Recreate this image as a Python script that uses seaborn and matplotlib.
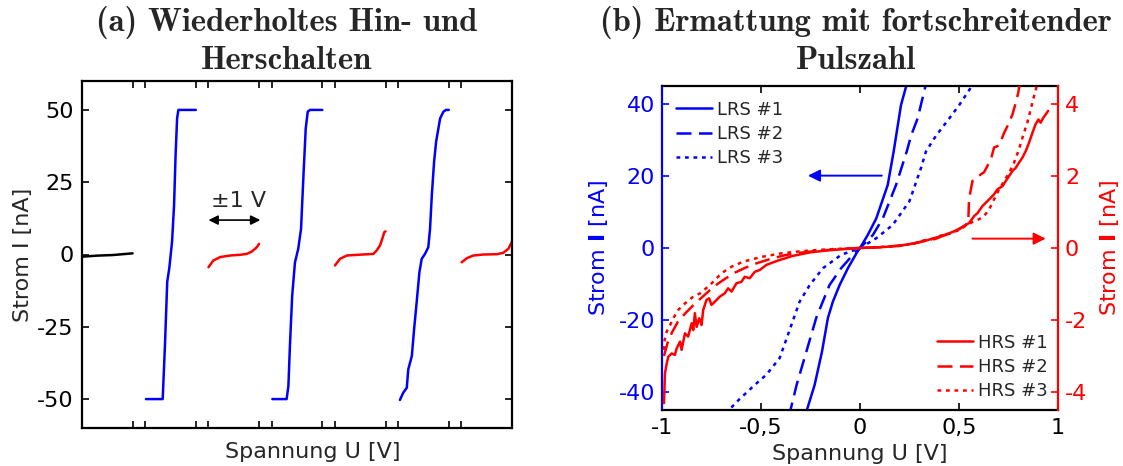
import matplotlib
matplotlib.use("Agg")
import matplotlib.pyplot as plt
import seaborn as sns

sns.set_theme(style="ticks")
plt.rcParams["font.family"] = ["DejaVu Sans"]
plt.rcParams["axes.unicode_minus"] = False

# ---------------- (a) repeated switching: consecutive +-1 V sweeps ----------------
# each sweep: local voltage (-1 .. +1 V) and current in nA
init_u = [-1.0, -0.42, 0.24, 1.0]
init_i = [-0.76, -0.4, -0.17, 0.4]

set1_u = [-0.97, -0.31, -0.22, -0.13, -0.05, 0.06, 0.14, 0.20, 0.26, 0.31, 1.0]
set1_i = [-50, -50, -31.3, -9.4, -4.8, 4.4, 17.1, 34.4, 47.1, 50, 50]
reset1_u = [-1.0, -0.81, -0.54, -0.15, 0.25, 0.51, 0.71, 0.91, 1.0]
reset1_i = [-4.4, -2.1, -0.9, -0.35, -0.1, 0.2, 1.0, 2.5, 3.7]

set2_u = [-0.975, -0.41, -0.34, -0.28, -0.19, -0.08, 0.05, 0.16, 0.25, 0.345, 0.425, 0.515, 1.0]
set2_i = [-50, -50, -45.5, -31.6, -14.2, -2.7, 2.0, 8.9, 26.3, 43.6, 49.4, 50, 50]
reset2_u = [-1.0, -0.80, -0.53, -0.08, 0.52, 0.65, 0.78, 0.87, 0.95, 1.0]
reset2_i = [-3.8, -1.5, -0.35, -0.1, 0.2, 1.4, 3.1, 5.4, 7.7, 8.0]

set3_u = [-0.93, -0.80, -0.66, -0.60, -0.46, -0.37, -0.27, -0.16, -0.07, 0.06,
          0.19, 0.26, 0.33, 0.42, 0.50, 0.59, 0.66, 0.79, 0.89, 1.0]
set3_i = [-50.3, -47.8, -46.1, -39.7, -35.1, -25.8, -16.6, -6.1, -1.5, 0.2,
          2.5, 8.9, 20.5, 32.1, 39.0, 43.6, 47.1, 49.4, 50, 50]
reset3_u = [-0.99, -0.79, -0.53, -0.13, 0.40, 0.66, 0.86, 0.99, 1.03]
reset3_i = [-2.7, -1.3, -0.35, 0.0, 0.1, 0.6, 2.0, 4.3, 5.5]

sweeps_a = [
    (init_u, init_i, "black"),
    (set1_u, set1_i, "blue"),
    (reset1_u, reset1_i, "red"),
    (set2_u, set2_i, "blue"),
    (reset2_u, reset2_i, "red"),
    (set3_u, set3_i, "blue"),
    (reset3_u, reset3_i, "red"),
]
sweep_width = 2.0   # one sweep covers -1 .. +1 V
sweep_gap = 0.5
yticks_a = [-50, -25, 0, 25, 50]

# ---------------- (b) degradation with increasing pulse number ----------------
lrs1_u = [-0.28, -0.271, -0.229, -0.192, -0.162, -0.137, -0.103, -0.061, -0.013, 0.0,
          0.039, 0.082, 0.140, 0.170, 0.207, 0.236, 0.245]
lrs1_i = [-47, -45.5, -38, -28.8, -19.4, -14.9, -10.3, -5.6, -1.0, 0.0,
          3.6, 8.2, 17.5, 26.8, 39.7, 45.5, 47]
lrs2_u = [-0.36, -0.32, -0.271, -0.221, -0.154, -0.095, -0.036, 0.0, 0.065, 0.115,
          0.182, 0.236, 0.258, 0.291, 0.333, 0.34]
lrs2_i = [-47, -38, -28.8, -19.4, -10.3, -5.6, -1.9, 0.0, 3.6, 8.2,
          17.5, 26.8, 31.2, 36.0, 45.5, 47]
lrs3_u = [-0.68, -0.607, -0.531, -0.473, -0.406, -0.364, -0.305, -0.254, -0.187, -0.095,
          0.0, 0.082, 0.165, 0.249, 0.308, 0.333, 0.384, 0.451, 0.501, 0.552, 0.57]
lrs3_i = [-46, -41.9, -38, -35.2, -30.6, -24.1, -14.9, -10.3, -5.6, -1.9,
          0.0, 2.7, 6.4, 12.9, 22.2, 26.8, 31.2, 36.0, 39.7, 43.9, 45.5]

hrs1_u = [-0.99, -0.985, -0.976, -0.968, -0.951, -0.935, -0.926, -0.909, -0.901, -0.884,
          -0.868, -0.85, -0.842, -0.834, -0.825, -0.812, -0.80, -0.792, -0.775, -0.762,
          -0.75, -0.733, -0.708, -0.683, -0.666, -0.649, -0.624, -0.599, -0.582, -0.557,
          -0.531, -0.506, -0.473, -0.42, -0.34, -0.25, -0.17, -0.08, 0.0, 0.1,
          0.2, 0.28, 0.33, 0.37, 0.40, 0.43, 0.46, 0.50, 0.53, 0.552,
          0.577, 0.594, 0.619, 0.636, 0.661, 0.677, 0.694, 0.720, 0.736, 0.753,
          0.770, 0.787, 0.803, 0.820, 0.837, 0.854, 0.871, 0.887, 0.901, 0.912,
          0.926, 0.938, 0.95]
hrs1_i = [-4.31, -3.48, -3.20, -3.02, -2.93, -2.97, -2.79, -2.60, -2.83, -2.37,
          -2.46, -2.09, -2.28, -1.81, -2.19, -1.95, -2.14, -1.72, -1.44, -1.40,
          -1.58, -1.49, -1.35, -1.26, -1.12, -1.21, -0.98, -0.94, -0.80, -0.84,
          -0.66, -0.61, -0.47, -0.36, -0.22, -0.12, -0.07, -0.03, 0.0, 0.02,
          0.06, 0.14, 0.20, 0.27, 0.31, 0.37, 0.43, 0.52, 0.62, 0.70,
          0.89, 0.97, 1.17, 1.26, 1.40, 1.49, 1.63, 1.72, 1.86, 2.00,
          2.14, 2.23, 2.37, 2.51, 2.69, 2.93, 3.20, 3.44, 3.57, 3.48,
          3.62, 3.71, 3.81]
hrs2_u = [-0.99, -0.97, -0.95, -0.92, -0.88, -0.84, -0.80, -0.76, -0.72, -0.68,
          -0.63, -0.58, -0.52, -0.45, -0.38, -0.30, -0.20, -0.10, 0.0, 0.1,
          0.2, 0.28, 0.34, 0.38, 0.42, 0.46, 0.50, 0.53, 0.547, 0.550,
          0.557, 0.568, 0.594, 0.627, 0.661, 0.677, 0.703, 0.728, 0.753, 0.770,
          0.787, 0.799, 0.812]
hrs2_i = [-3.0, -2.6, -2.35, -2.05, -1.8, -1.58, -1.38, -1.18, -1.0, -0.85,
          -0.68, -0.55, -0.42, -0.30, -0.20, -0.13, -0.07, -0.03, 0.0, 0.02,
          0.07, 0.13, 0.22, 0.25, 0.34, 0.41, 0.53, 0.63, 0.71, 1.26,
          1.54, 1.86, 1.98, 2.11, 2.46, 2.79, 2.85, 3.20, 3.48, 3.71,
          4.04, 4.31, 4.7]
hrs3_u = [-0.99, -0.987, -0.976, -0.959, -0.943, -0.918, -0.884, -0.842, -0.808, -0.758,
          -0.699, -0.649, -0.59, -0.50, -0.40, -0.30, -0.20, -0.10, 0.0, 0.1,
          0.2, 0.27, 0.32, 0.36, 0.41, 0.45, 0.50, 0.54, 0.577, 0.602,
          0.627, 0.652, 0.677, 0.703, 0.728, 0.753, 0.778, 0.803, 0.828, 0.845,
          0.862, 0.879, 0.887, 0.895]
hrs3_i = [-2.83, -2.56, -2.32, -2.14, -1.95, -1.72, -1.54, -1.35, -1.26, -1.03,
          -0.70, -0.52, -0.38, -0.25, -0.15, -0.09, -0.05, -0.02, 0.0, 0.03,
          0.06, 0.12, 0.21, 0.24, 0.35, 0.39, 0.50, 0.64, 0.75, 0.80,
          0.89, 1.07, 1.35, 1.63, 1.86, 2.09, 2.37, 2.74, 3.20, 3.48,
          3.85, 4.22, 4.36, 4.6]

xticks_b = [-1, -0.5, 0, 0.5, 1]
xtick_labels_b = ["-1", "-0,5", "0", "0,5", "1"]
yticks_left = [-40, -20, 0, 20, 40]
yticks_right = [-4, -2, 0, 2, 4]

BLUE = "#0000ff"
RED = "#ff0000"
FS = 16

fig = plt.figure(figsize=(11.23, 4.66), dpi=100)
W, H = 1123.0, 466.0
axA = fig.add_axes([82 / W, 1 - 428 / H, 430 / W, 347 / H])
axB = fig.add_axes([662 / W, 1 - 410 / H, 396 / W, 324 / H])

# ---------- panel (a) ----------
centers = []
for k, (u, i, col) in enumerate(sweeps_a):
    c = sweep_width / 2 + k * (sweep_width + sweep_gap)
    centers.append(c)
    sns.lineplot(x=[c + v for v in u], y=i, ax=axA, color=col, lw=1.8,
                 sort=False, estimator=None)

xt = []
for c in centers[1:]:
    xt += [c - sweep_width / 2 - sweep_gap, c - sweep_width / 2]
axA.set_xlim(0, centers[-1] + sweep_width / 2)
axA.set_ylim(-60, 60)
axA.set_xticks(xt)
axA.set_xticklabels([])
axA.set_yticks(yticks_a)
axA.set_yticklabels([str(v) for v in yticks_a])
axA.tick_params(direction="in", length=5, width=1.2, top=True, right=True,
                labelsize=FS, pad=6, colors="black")
for s in axA.spines.values():
    s.set_linewidth(1.6)
    s.set_color("black")
axA.set_xlabel("Spannung U [V]", fontsize=FS, labelpad=4)
axA.xaxis.label.set_x(0.537)
axA.set_ylabel("Strom I [nA]", fontsize=FS, labelpad=3)

# +-1 V span marker over the first reset sweep
c_r1 = centers[2]
axA.annotate("", xy=(c_r1 - 1.0, 11.9), xytext=(c_r1 + 1.05, 11.9),
             arrowprops=dict(arrowstyle="<|-|>", color="black", lw=1.2,
                             mutation_scale=14, shrinkA=0, shrinkB=0))
axA.text(c_r1 + 0.2, 18.6, "\u00b11 V", fontsize=FS, ha="center", va="center")

# ---------- panel (b) ----------
axB2 = axB.twinx()
axB2.set_position(axB.get_position())

line_styles = [dict(ls="-"), dict(dashes=(6, 3)), dict(dashes=(1.5, 1.9))]
for (u, i, lab), st in zip([(lrs1_u, lrs1_i, "LRS #1"), (lrs2_u, lrs2_i, "LRS #2"),
                            (lrs3_u, lrs3_i, "LRS #3")], line_styles):
    sns.lineplot(x=u, y=i, ax=axB, color=BLUE, lw=1.8, sort=False,
                 estimator=None, label=lab, **st)
for (u, i, lab), st in zip([(hrs1_u, hrs1_i, "HRS #1"), (hrs2_u, hrs2_i, "HRS #2"),
                            (hrs3_u, hrs3_i, "HRS #3")], line_styles):
    sns.lineplot(x=u, y=i, ax=axB2, color=RED, lw=1.8, sort=False,
                 estimator=None, label=lab, **st)

axB.set_xlim(-1, 1)
axB.set_ylim(-45, 45)
axB2.set_ylim(-4.5, 4.5)
axB.set_xticks(xticks_b)
axB.set_xticklabels(xtick_labels_b)
axB.set_yticks(yticks_left)
axB.set_yticklabels([str(v) for v in yticks_left])
axB2.set_yticks(yticks_right)
axB2.set_yticklabels([str(v) for v in yticks_right])

axB.tick_params(axis="x", direction="in", length=5, width=1.2, top=True,
                labelsize=FS, pad=6, colors="black")
axB.tick_params(axis="y", direction="in", length=5, width=1.2,
                labelsize=FS, pad=5, colors=BLUE)
axB2.tick_params(axis="y", direction="in", length=5, width=1.2,
                 labelsize=FS, pad=5, colors=RED)

for s in axB.spines.values():
    s.set_linewidth(1.6)
    s.set_color("black")
axB.spines["left"].set_color(BLUE)
axB.spines["right"].set_visible(False)
for name in ["left", "top", "bottom"]:
    axB2.spines[name].set_visible(False)
axB2.spines["right"].set_color(RED)
axB2.spines["right"].set_linewidth(1.6)

axB.set_xlabel("Spannung U [V]", fontsize=FS, labelpad=4)
axB.set_ylabel(r"Strom $\mathbf{I}$ [nA]", fontsize=FS, color=BLUE, labelpad=6)
axB2.set_ylabel(r"Strom $\mathbf{I}$ [nA]", fontsize=FS, color=RED, labelpad=8)

axB.annotate("", xy=(-0.263, 20.1), xytext=(0.11, 20.1),
             arrowprops=dict(arrowstyle="-|>", color=BLUE, lw=1.4,
                             mutation_scale=18, shrinkA=0, shrinkB=0))
axB2.annotate("", xy=(0.938, 0.26), xytext=(0.568, 0.26),
              arrowprops=dict(arrowstyle="-|>", color=RED, lw=1.4,
                              mutation_scale=18, shrinkA=0, shrinkB=0))

legA = axB.legend(loc="upper left", bbox_to_anchor=(0.035, 0.955), frameon=False,
                  fontsize=13, handlelength=2.0, handletextpad=0.3,
                  labelspacing=0.35, borderaxespad=0, borderpad=0)
legB = axB2.legend(loc="lower right", bbox_to_anchor=(0.975, 0.03), frameon=False,
                   fontsize=13, handlelength=2.0, handletextpad=0.3,
                   labelspacing=0.35, borderaxespad=0, borderpad=0)

# ---------- titles ----------
title_kw = dict(ha="center", va="top", family="cmb10", fontsize=23.5, linespacing=1.3)
fig.text(287 / W, 1 - 6 / H, "(a) Wiederholtes Hin- und\nHerschalten", **title_kw)
fig.text(856 / W, 1 - 6 / H, "(b) Ermattung mit fortschreitender\nPulszahl", **title_kw)

fig.savefig("out.png", dpi=100)
